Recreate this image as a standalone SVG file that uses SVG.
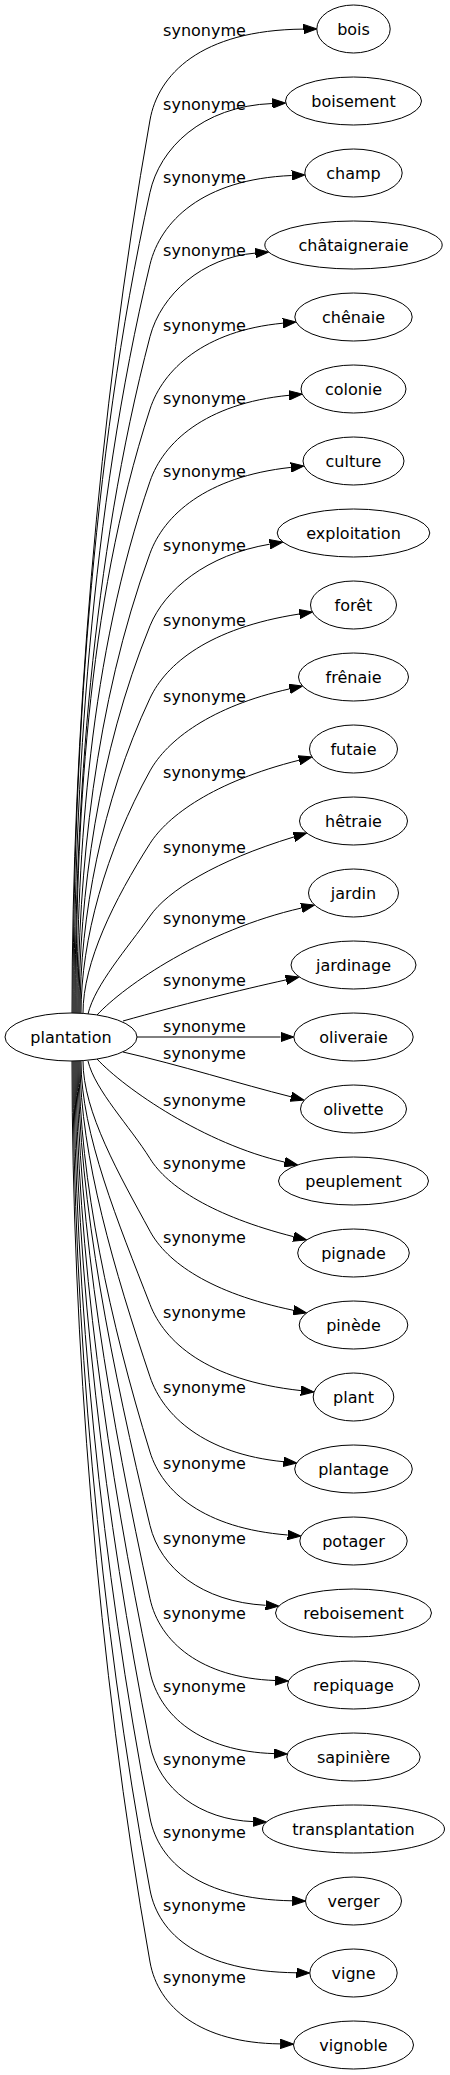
<svg xmlns="http://www.w3.org/2000/svg" width="450" height="2075" viewBox="0 0 450 2075">
<style>
.n ellipse{fill:#fff;stroke:#000;stroke-width:1}
.n text{font-family:"DejaVu Sans",sans-serif;font-size:16px;text-anchor:middle;fill:#000}
.e path{fill:none;stroke:#000;stroke-width:1;marker-end:url(#ah)}
.e text{font-family:"DejaVu Sans",sans-serif;font-size:16px;text-anchor:middle;fill:#000}
</style>
<defs>
<marker id="ah" markerUnits="userSpaceOnUse" markerWidth="14" markerHeight="10" refX="0" refY="5" orient="auto">
<path d="M0,0.3 L13.3,5 L0,9.7 z" fill="#000" stroke="#000" stroke-width="1"/>
</marker>
</defs>
<rect width="450" height="2075" fill="#fff"/>
<g id="edges">
<g class="e"><path d="M72,1013 C72,745 97.5,415 150,120 C158,75 200,30 303.5,29.1"/><text x="204.5" y="36">synonyme</text></g>
<g class="e"><path d="M73,1013 C73,767 90.4,463.1 150,192.3 C159.5,148.9 201.2,106.2 272.4,103.5"/><text x="204.5" y="110">synonyme</text></g>
<g class="e"><path d="M74,1013 C74,788.4 90.6,511.5 150,264.5 C160.3,221.9 201.8,179.2 291.7,175.5"/><text x="204.5" y="183">synonyme</text></g>
<g class="e"><path d="M75,1013 C75,810.1 91.6,559.8 150,336.6 C160.9,294.8 202.4,257.3 255.4,253.1"/><text x="204.5" y="256">synonyme</text></g>
<g class="e"><path d="M76,1013 C76,831.8 85.4,608.4 150,409.1 C162.8,369.7 204.2,330.6 282.9,323.2"/><text x="204.5" y="331">synonyme</text></g>
<g class="e"><path d="M77,1013 C77,853.5 89.5,656.8 150,481.3 C163.3,442.7 204.8,403.6 289,395.3"/><text x="204.5" y="404">synonyme</text></g>
<g class="e"><path d="M78,1013 C78,875.1 94.5,705.1 150,553.4 C163.8,515.6 205.4,476.7 290.9,467.4"/><text x="204.5" y="477">synonyme</text></g>
<g class="e"><path d="M79,1013 C79,896.8 97.9,753.6 150,625.8 C164.8,589.6 206.6,554.9 269.7,544.2"/><text x="204.5" y="551">synonyme</text></g>
<g class="e"><path d="M80,1013 C80,918.6 101.2,802.1 150,698.2 C165.9,664.4 208.4,628.1 299.3,614"/><text x="204.5" y="626">synonyme</text></g>
<g class="e"><path d="M81,1013 C81,940.4 105.7,850.8 150,770.9 C167,740.3 210.8,706.4 289.5,688.9"/><text x="204.5" y="702">synonyme</text></g>
<g class="e"><path d="M83,1013 C83,962.1 114.4,899.4 150,843.5 C167.5,816.1 213.2,781.8 299.1,760.2"/><text x="204.5" y="778">synonyme</text></g>
<g class="e"><path d="M88,1014 C95,984.6 127.4,948.3 150,916 C167.5,891 215,861 294,836.9"/><text x="204.5" y="853">synonyme</text></g>
<g class="e"><path d="M97,1015 C125,985 205,930 301.5,908"/><text x="204.5" y="924">synonyme</text></g>
<g class="e"><path d="M123,1021 C180,1005 240,990 286,979.9"/><text x="204.5" y="986">synonyme</text></g>
<g class="e"><path d="M137,1037 L280.5,1037"/><text x="204.5" y="1032">synonyme</text></g>
<g class="e"><path d="M123,1052 C180,1065 240,1084 291.1,1096.8"/><text x="204.5" y="1059">synonyme</text></g>
<g class="e"><path d="M97,1059 C125,1089 205,1144 284.6,1162.1"/><text x="204.5" y="1106">synonyme</text></g>
<g class="e"><path d="M88,1061 C95,1090.3 130,1126.4 150,1158.6 C167.4,1186.6 212.8,1216.1 293.7,1236.7"/><text x="204.5" y="1169">synonyme</text></g>
<g class="e"><path d="M83,1061 C83,1112.1 119.5,1175 150,1231.2 C166.8,1262.2 210.5,1293.1 293.5,1310.3"/><text x="204.5" y="1243">synonyme</text></g>
<g class="e"><path d="M81,1061 C81,1134 118.9,1224.1 150,1304.4 C164.3,1341.4 206,1380.2 300.9,1390.6"/><text x="204.5" y="1318">synonyme</text></g>
<g class="e"><path d="M80,1061 C80,1155.7 115.1,1272.6 150,1376.8 C163.1,1415.8 204.5,1453.9 283.4,1461.7"/><text x="204.5" y="1393">synonyme</text></g>
<g class="e"><path d="M79,1061 C79,1178.3 110.2,1323 150,1452 C162.3,1492 203.8,1528.3 287.7,1535"/><text x="204.5" y="1469">synonyme</text></g>
<g class="e"><path d="M78,1061 C78,1200.4 113.1,1372.2 150,1525.5 C160.3,1568.1 201.8,1601.8 265.6,1605.3"/><text x="204.5" y="1544">synonyme</text></g>
<g class="e"><path d="M77,1061 C77,1222.3 111,1421.3 150,1598.7 C159.5,1642.1 201.2,1677.8 275.1,1680.5"/><text x="204.5" y="1619">synonyme</text></g>
<g class="e"><path d="M76,1061 C76,1244.2 107.8,1470.2 150,1671.8 C159.2,1715.6 200.9,1751.4 274,1753.6"/><text x="204.5" y="1692">synonyme</text></g>
<g class="e"><path d="M75,1061 C75,1266.1 105.1,1519.1 150,1744.8 C158.8,1789 200.6,1819.9 253.2,1821.6"/><text x="204.5" y="1765">synonyme</text></g>
<g class="e"><path d="M74,1061 C74,1288.1 101.6,1568.1 150,1817.9 C158.6,1862.3 200.5,1899.2 292.2,1900.8"/><text x="204.5" y="1838">synonyme</text></g>
<g class="e"><path d="M73,1061 C73,1309.7 98.5,1616.4 150,1889.9 C158.4,1934.5 200.3,1971.5 296.5,1972.8"/><text x="204.5" y="1911">synonyme</text></g>
<g class="e"><path d="M72,1061 C72,1331.3 97.1,1664.7 150,1962 C158,2007 200,2043 280.2,2043.9"/><text x="204.5" y="1983">synonyme</text></g>
</g>
<g id="plantation" class="n"><ellipse cx="71" cy="1037" rx="66" ry="24"/><text x="71" y="1042.5">plantation</text></g>
<g id="bois" class="n"><ellipse cx="353.5" cy="29" rx="36.7" ry="24"/><text x="353.5" y="34.5">bois</text></g>
<g id="boisement" class="n"><ellipse cx="353.5" cy="101" rx="68" ry="24"/><text x="353.5" y="106.5">boisement</text></g>
<g id="champ" class="n"><ellipse cx="353.5" cy="173" rx="48.7" ry="24"/><text x="353.5" y="178.5">champ</text></g>
<g id="chataigneraie" class="n"><ellipse cx="353.5" cy="245" rx="88.7" ry="24"/><text x="353.5" y="250.5">châtaigneraie</text></g>
<g id="chenaie" class="n"><ellipse cx="353.5" cy="317" rx="58.7" ry="24"/><text x="353.5" y="322.5">chênaie</text></g>
<g id="colonie" class="n"><ellipse cx="353.5" cy="389" rx="52.5" ry="24"/><text x="353.5" y="394.5">colonie</text></g>
<g id="culture" class="n"><ellipse cx="353.5" cy="461" rx="50.5" ry="24"/><text x="353.5" y="466.5">culture</text></g>
<g id="exploitation" class="n"><ellipse cx="353.5" cy="533" rx="76.3" ry="24"/><text x="353.5" y="538.5">exploitation</text></g>
<g id="foret" class="n"><ellipse cx="353.5" cy="605" rx="43" ry="24"/><text x="353.5" y="610.5">forêt</text></g>
<g id="frenaie" class="n"><ellipse cx="353.5" cy="677" rx="55" ry="24"/><text x="353.5" y="682.5">frênaie</text></g>
<g id="futaie" class="n"><ellipse cx="353.5" cy="749" rx="44" ry="24"/><text x="353.5" y="754.5">futaie</text></g>
<g id="hetraie" class="n"><ellipse cx="353.5" cy="821" rx="54" ry="24"/><text x="353.5" y="826.5">hêtraie</text></g>
<g id="jardin" class="n"><ellipse cx="353.5" cy="893" rx="45" ry="24"/><text x="353.5" y="898.5">jardin</text></g>
<g id="jardinage" class="n"><ellipse cx="353.5" cy="965" rx="62.5" ry="24"/><text x="353.5" y="970.5">jardinage</text></g>
<g id="oliveraie" class="n"><ellipse cx="353.5" cy="1037" rx="59.7" ry="24"/><text x="353.5" y="1042.5">oliveraie</text></g>
<g id="olivette" class="n"><ellipse cx="353.5" cy="1109" rx="53" ry="24"/><text x="353.5" y="1114.5">olivette</text></g>
<g id="peuplement" class="n"><ellipse cx="353.5" cy="1181" rx="75" ry="24"/><text x="353.5" y="1186.5">peuplement</text></g>
<g id="pignade" class="n"><ellipse cx="353.5" cy="1253" rx="55.8" ry="24"/><text x="353.5" y="1258.5">pignade</text></g>
<g id="pinede" class="n"><ellipse cx="353.5" cy="1325" rx="54.3" ry="24"/><text x="353.5" y="1330.5">pinède</text></g>
<g id="plant" class="n"><ellipse cx="353.5" cy="1397" rx="40.3" ry="24"/><text x="353.5" y="1402.5">plant</text></g>
<g id="plantage" class="n"><ellipse cx="353.5" cy="1469" rx="58.8" ry="24"/><text x="353.5" y="1474.5">plantage</text></g>
<g id="potager" class="n"><ellipse cx="353.5" cy="1541" rx="53.7" ry="24"/><text x="353.5" y="1546.5">potager</text></g>
<g id="reboisement" class="n"><ellipse cx="353.5" cy="1613" rx="78" ry="24"/><text x="353.5" y="1618.5">reboisement</text></g>
<g id="repiquage" class="n"><ellipse cx="353.5" cy="1685" rx="66" ry="24"/><text x="353.5" y="1690.5">repiquage</text></g>
<g id="sapiniere" class="n"><ellipse cx="353.5" cy="1757" rx="66.7" ry="24"/><text x="353.5" y="1762.5">sapinière</text></g>
<g id="transplantation" class="n"><ellipse cx="353.5" cy="1829" rx="91" ry="24"/><text x="353.5" y="1834.5">transplantation</text></g>
<g id="verger" class="n"><ellipse cx="353.5" cy="1901" rx="48" ry="24"/><text x="353.5" y="1906.5">verger</text></g>
<g id="vigne" class="n"><ellipse cx="353.5" cy="1973" rx="43.7" ry="24"/><text x="353.5" y="1978.5">vigne</text></g>
<g id="vignoble" class="n"><ellipse cx="353.5" cy="2045" rx="60" ry="24"/><text x="353.5" y="2050.5">vignoble</text></g>
</svg>
